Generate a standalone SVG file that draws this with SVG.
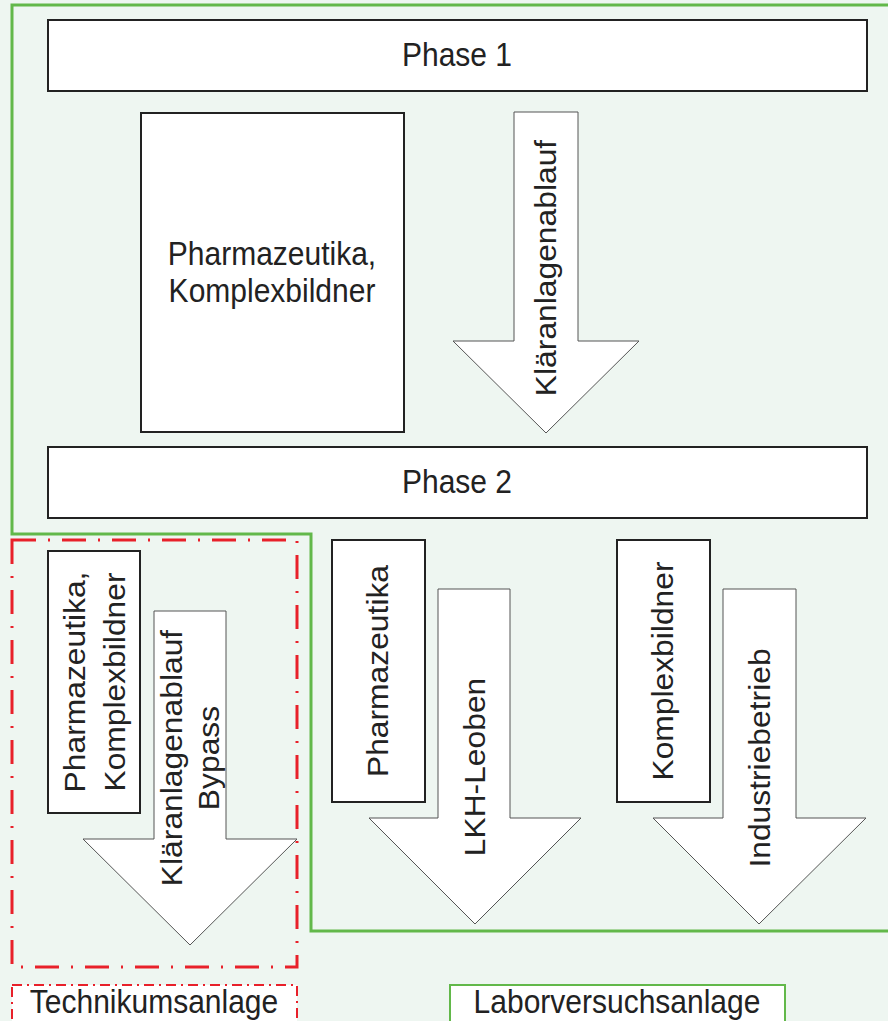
<svg xmlns="http://www.w3.org/2000/svg" width="888" height="1021" viewBox="0 0 888 1021">
<style>
.box{fill:#fff;stroke:#222;stroke-width:2}
.arr{fill:#fff;stroke:#555;stroke-width:1}
.t{font-family:"Liberation Sans",Arial,sans-serif;font-size:30px;fill:#222;text-anchor:middle}
.green{fill:none;stroke:#62b84a;stroke-width:3}
.red{fill:none;stroke:#e8202a;stroke-width:3;stroke-dasharray:24 12 2 12}
</style>
<rect x="0" y="0" width="888" height="1021" fill="#eef6f1"/>
<path class="green" d="M888,5 H12 V534 H311 V931 H888"/>
<rect class="red" x="12" y="540" width="285" height="427"/>
<g id="phase1"><rect class="box" x="48" y="20" width="819" height="71"/><text class="t" transform="translate(457,66) scale(1,1.08)">Phase 1</text></g>
<g id="phase2"><rect class="box" x="48" y="447" width="819" height="71"/><text class="t" transform="translate(457,493) scale(1,1.08)">Phase 2</text></g>
<g id="stoffe1"><rect class="box" x="141" y="113" width="263" height="319"/><text class="t" transform="translate(272,265) scale(1,1.08)">Pharmazeutika,</text><text class="t" transform="translate(272,302) scale(1,1.08)">Komplexbildner</text></g>
<g id="stoffe-bypass"><rect class="box" x="48" y="551" width="92" height="262"/><text class="t" transform="translate(94,682) rotate(-90) scale(1.06,1)"><tspan x="0" y="-9">Pharmazeutika,</tspan><tspan x="0" y="31">Komplexbildner</tspan></text></g>
<g id="pharmazeutika"><rect class="box" x="332" y="540" width="93" height="262"/><text class="t" transform="translate(378,671) rotate(-90) scale(1.06,1)" x="0" y="10">Pharmazeutika</text></g>
<g id="komplexbildner"><rect class="box" x="617" y="540" width="93" height="262"/><text class="t" transform="translate(663,671) rotate(-90) scale(1.06,1)" x="0" y="10">Komplexbildner</text></g>
<g id="connectors">
<g id="arrow-klaeranlagenablauf"><path class="arr" d="M514,112 H578 V341 H639 L546,433 L453,341 H514 Z"/><text class="t" transform="translate(546,268) rotate(-90) scale(1.06,1)" x="0" y="10">Kläranlagenablauf</text></g>
<g id="arrow-bypass"><path class="arr" d="M154,611 H226 V839 H297 L190,945 L83,839 H154 Z"/><text class="t" transform="translate(190,758) rotate(-90) scale(1.06,1)"><tspan x="0" y="-8">Kläranlagenablauf</tspan><tspan x="0" y="29">Bypass</tspan></text></g>
<g id="arrow-lkh"><path class="arr" d="M438,589 H510 V818 H581 L475,924 L369,818 H438 Z"/><text class="t" transform="translate(475,767) rotate(-90) scale(1.06,1)" x="0" y="10">LKH-Leoben</text></g>
<g id="arrow-industrie"><path class="arr" d="M723,589 H796 V818 H866 L759,924 L653,818 H723 Z"/><text class="t" transform="translate(760,758) rotate(-90) scale(1.06,1)" x="0" y="10">Industriebetrieb</text></g>
</g>
<g id="label-technikum"><rect x="12" y="985" width="285" height="40" fill="#fff" stroke="#e8202a" stroke-width="2" stroke-dasharray="10 5 2 5"/><text class="t" transform="translate(154,1013) scale(1,1.08)">Technikumsanlage</text></g>
<g id="label-labor"><rect x="450" y="985" width="335" height="40" fill="#fff" stroke="#62b84a" stroke-width="2"/><text class="t" transform="translate(617,1013) scale(1,1.08)">Laborversuchsanlage</text></g>
</svg>
